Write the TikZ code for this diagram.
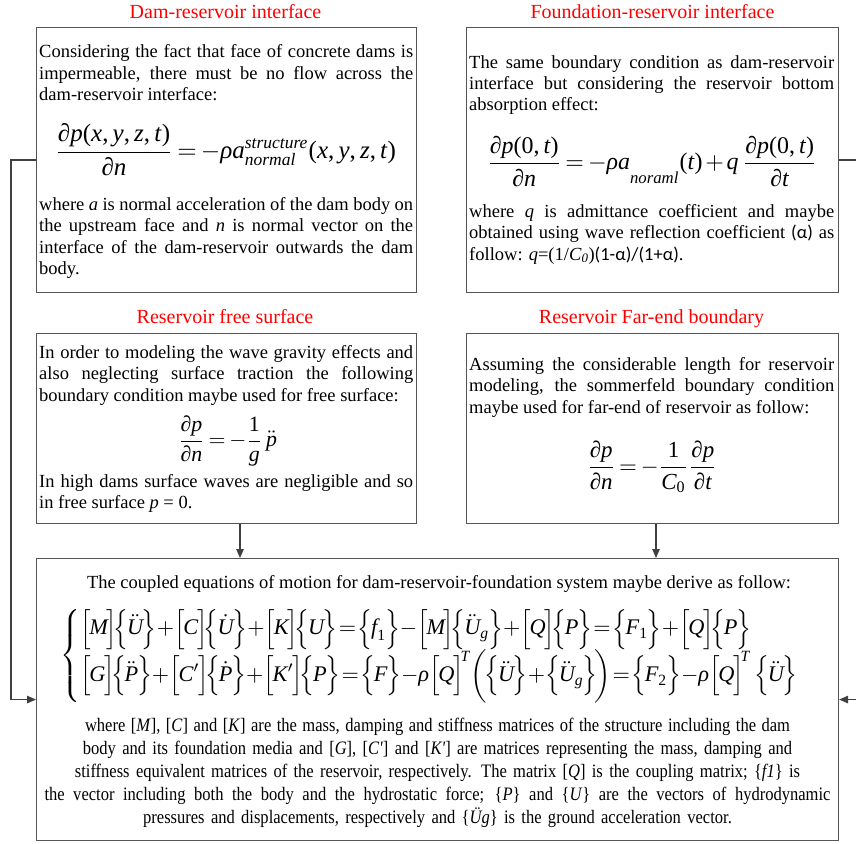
\documentclass[tikz,border=0pt]{standalone}
\usepackage{amsmath}
\usepackage[no-math]{fontspec}
\setmainfont{Liberation Serif}
\newfontfamily\calib{Carlito}
\newfontfamily\condfont[FakeStretch=0.87]{Liberation Serif}
\usepackage{graphicx}
\usetikzlibrary{arrows.meta}
\definecolor{boxc}{RGB}{85,85,85}
\definecolor{linec}{RGB}{64,64,64}
\definecolor{titred}{RGB}{255,0,0}
\newcommand{\vi}[1]{\textit{#1}}
\newcommand{\vu}[1]{\textup{#1}}
\newcommand{\SB}[1]{\Bigl[\mkern-1mu#1\mkern-1mu\Bigr]}
\newcommand{\CB}[1]{\Bigl\{\mkern-1mu#1\mkern-1mu\Bigr\}}
\newcommand{\kk}{\mkern-3mu}
\newcommand{\jline}[3]{{\spaceskip=#2 plus 12pt minus 2.5pt\makebox[#1][s]{#3}}}
\AtBeginDocument{\medmuskip=2mu\thickmuskip=3mu}
\tikzset{
  box/.style={draw=boxc, line width=1.1pt, anchor=north west, inner sep=0pt, rectangle},
  ttl/.style={text=titred, font=\fontsize{20}{24}\selectfont, anchor=base, inner sep=0pt},
  para/.style={anchor=base west, inner sep=0pt, align=justify, font=\fontsize{18.5}{21.5}\selectfont},
  eqn/.style={inner sep=0pt},
  conn/.style={draw=linec, line width=1.3pt},
  arr/.style={conn, -{Triangle[length=9pt,width=7.5pt]}}
}
\begin{document}
\begin{tikzpicture}[x=1pt,y=-1pt]
\useasboundingbox (0,0) rectangle (856,843);
% boxes
\node[box, minimum width=380pt, minimum height=265pt] (b1) at (36,27) {};
\node[box, minimum width=372pt, minimum height=265pt] (b2) at (466,27) {};
\node[box, minimum width=380pt, minimum height=190pt] (b3) at (36,333) {};
\node[box, minimum width=372pt, minimum height=190pt] (b4) at (466,333) {};
\node[box, minimum width=802pt, minimum height=282pt] (b5) at (36,558) {};
% titles
\node[ttl] (t1) at (225.5,19) {Dam-reservoir interface};
\node[ttl] (t2) at (652.5,19) {Foundation-reservoir interface};
\node[ttl] (t3) at (225,323) {Reservoir free surface};
\node[ttl] (t4) at (651.5,323) {Reservoir Far-end boundary};
% box 1
\node[para, text width=374pt] (p1a) at (39,58) {Considering the fact that face of concrete dams is\linebreak impermeable, there must be no flow across the\linebreak dam-reservoir interface:};
\node[eqn] (e1) at (225.5,150) {\resizebox{341pt}{!}{$\displaystyle \frac{\mbox{\vi{∂p}(\vi{x},\,\vi{y},\,\vi{z},\,\vi{t})}}{\mbox{\vi{∂n}}}=-\vi{ρa}^{\vi{structure}}_{\vi{normal}}\mbox{(\vi{x},\,\vi{y},\,\vi{z},\,\vi{t})}$}};
\node[para, text width=374pt] (p1b) at (39,210) {where \textit{a} is normal acceleration of the dam body on\linebreak the upstream face and \textit{n} is normal vector on the\linebreak interface of the dam-reservoir outwards the dam\linebreak body.};
% box 2
\node[para, text width=365pt] (p2a) at (469,68) {The same boundary condition as dam-reservoir\linebreak interface but considering the reservoir bottom\linebreak absorption effect:};
\node[eqn] (e2) at (652,161.5) {\resizebox{330pt}{!}{$\displaystyle \frac{\mbox{\vi{∂p}(0,\,\vi{t})}}{\mbox{\vi{∂n}}}=-\vi{ρa}_{\smash{\lower3pt\hbox{$\scriptstyle\vi{noraml}$}}}\mbox{(\vi{t})}+\vi{q}\,\frac{\mbox{\vi{∂p}(0,\,\vi{t})}}{\mbox{\vi{∂t}}}$}};
\node[para, text width=365pt] (p2b) at (469,217) {where \textit{q} is admittance coefficient and maybe\linebreak obtained using wave reflection coefficient {\calib(α)} as\linebreak follow: \textit{q}=(1/\textit{C}\textsubscript{\textit{0}}){\calib(1-α)/(1+α)}.};
% box 3
\node[para, text width=374pt] (p3a) at (39,358) {In order to modeling the wave gravity effects and\linebreak also neglecting surface traction the following\linebreak boundary condition maybe used for free surface:};
\node[eqn] (e3) at (227.5,441) {\resizebox{99pt}{!}{$\displaystyle \frac{\vi{∂p}}{\vi{∂n}}=-\frac{\vu{1}}{\vi{g}}\,\ddot{\vi{p}}$}};
\node[para, text width=374pt] (p3b) at (39,487) {In high dams surface waves are negligible and so\linebreak in free surface \textit{p} = 0.};
% box 4
\node[para, text width=365pt] (p4a) at (469,370) {Assuming the considerable length for reservoir\linebreak modeling, the sommerfeld boundary condition\linebreak maybe used for far-end of reservoir as follow:};
\node[eqn] (e4) at (652,467) {\resizebox{130pt}{!}{$\displaystyle \frac{\vi{∂p}}{\vi{∂n}}=-\frac{\vu{1}}{\vi{C}_{\vu{0}}}\frac{\vi{∂p}}{\vi{∂t}}$}};
% box 5
\node[anchor=base, inner sep=0pt, font=\fontsize{18.5}{21.5}\selectfont] (p5a) at (439,588) {The coupled equations of motion for dam-reservoir-foundation system maybe derive as follow:};
\node[eqn, anchor=west] (e5) at (60,656) {\resizebox{740pt}{!}{$\displaystyle \medmuskip=0mu\thickmuskip=1mu \left\{\begin{array}{@{}l@{}}
\SB{\vi{M}}\kk\CB{\ddot{\vi{U}}}+\SB{\vi{C}}\kk\CB{\dot{\vi{U}}}+\SB{\vi{K}}\kk\CB{\vi{U}}=\CB{\vi{f}_{\vu{1}}}-\SB{\vi{M}}\kk\CB{\ddot{\vi{U}}_{\vi{g}}}+\SB{\vi{Q}}\kk\CB{\vi{P}}=\CB{\vi{F}_{\vu{1}}}+\SB{\vi{Q}}\kk\CB{\vi{P}}\\[1pt]
\SB{\vi{G}}\kk\CB{\ddot{\vi{P}}}+\SB{\vi{C}'}\kk\CB{\dot{\vi{P}}}+\SB{\vi{K}'}\kk\CB{\vi{P}}=\CB{\vi{F}}-\vi{ρ}\SB{\vi{Q}}^{\mkern-3mu\vi{T}}\biggl(\mkern-2mu\CB{\ddot{\vi{U}}}+\CB{\ddot{\vi{U}}_{\vi{g}}}\mkern-2mu\biggr)=\CB{\vi{F}_{\vu{2}}}-\vi{ρ}\SB{\vi{Q}}^{\mkern-3mu\vi{T}}\,\CB{\ddot{\vi{U}}}
\end{array}\right.$}};
\node[anchor=base, inner sep=0pt, align=center, text width=810pt, font=\condfont\fontsize{19}{23}\selectfont] (p5b) at (437.5,731) {\jline{705pt}{4.2pt}{where [\textit{M}], [\textit{C}] and [\textit{K}] are the mass, damping and stiffness matrices of the structure including the dam}\\
body and its foundation media and [\textit{G}], [\textit{C'}] and [\textit{K'}] are matrices representing the mass, damping and\\
stiffness equivalent matrices of the reservoir, respectively. The matrix [\textit{Q}] is the coupling matrix; \{\textit{f1}\} is\\
\jline{786pt}{4.6pt}{the vector including both the body and the hydrostatic force; \{\textit{P}\} and \{\textit{U}\} are the vectors of hydrodynamic}\\
pressures and displacements, respectively and \{\textit{Üg}\} is the ground acceleration vector.};
% connectors
\coordinate (lx) at (11,0);
\coordinate (rx) at (857,0);
\coordinate (a1x) at (240,0);
\coordinate (a2x) at (656,0);
\draw[arr] (b1.west) -- (b1.west -| lx) |- (b5.west);
\draw[arr] (b2.east) -- (b2.east -| rx) |- (b5.east);
\draw[arr] (b3.south -| a1x) -- (b5.north -| a1x);
\draw[arr] (b4.south -| a2x) -- (b5.north -| a2x);
\end{tikzpicture}
\end{document}
